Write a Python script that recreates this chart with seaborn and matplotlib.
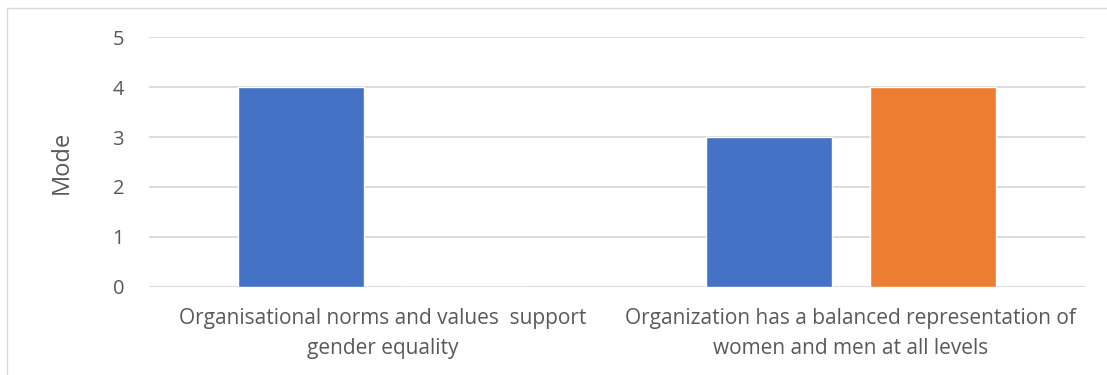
import matplotlib
matplotlib.use("Agg")
import matplotlib.pyplot as plt
from matplotlib.lines import Line2D
import pandas as pd
import seaborn as sns

categories = [
    "Organisational norms and values  support\ngender equality",
    "Organization has a balanced representation of\nwomen and men at all levels",
]
series_names = ["Series1", "Series2"]
series1_values = [4, 3]
series2_values = [0, 4]
y_ticks = [0, 1, 2, 3, 4, 5]

colors = ["#4472C4", "#ED7D31"]
text_color = "#595959"
grid_color = "#D9D9D9"

df = pd.DataFrame({
    "category": categories * 2,
    "series": [series_names[0]] * len(categories) + [series_names[1]] * len(categories),
    "value": series1_values + series2_values,
})

sns.set_theme(style="white")
plt.rcParams["font.family"] = ["Open Sans", "DejaVu Sans"]

fig = plt.figure(figsize=(11.07, 3.75), dpi=100)
ax = fig.add_axes([0.1346, 0.2347, 0.8454, 0.6666])

sns.barplot(data=df, x="category", y="value", hue="series", order=categories,
            hue_order=series_names, palette=colors, width=0.70, gap=0.23,
            saturation=1, legend=False, ax=ax, zorder=3)

ax.set_ylim(0, 5)
ax.set_xlim(-0.5, 1.5)
ax.set_yticks(y_ticks)
ax.set_yticklabels([str(t) for t in y_ticks])
ax.yaxis.grid(True, color=grid_color, linewidth=1.3, zorder=0)
ax.set_axisbelow(True)
for side in ["top", "right", "left", "bottom"]:
    ax.spines[side].set_visible(False)
ax.tick_params(axis="y", length=0, pad=18, labelsize=14.5, labelcolor=text_color)
ax.tick_params(axis="x", length=0, pad=15, labelsize=15, labelcolor=text_color)
for lbl in ax.get_xticklabels():
    lbl.set_linespacing(1.55)
ax.set_xlabel("")
ax.set_ylabel("Mode", fontsize=17, color=text_color, labelpad=28)

# chart area frame (top and left edges)
frame_color = "#D9D9D9"
fig.add_artist(Line2D([7 / 1107, 1.0], [1 - 8 / 375, 1 - 8 / 375],
                      transform=fig.transFigure, color=frame_color, linewidth=1))
fig.add_artist(Line2D([7 / 1107, 7 / 1107], [0.0, 1 - 8 / 375],
                      transform=fig.transFigure, color=frame_color, linewidth=1))

fig.savefig("out.png", dpi=100)
